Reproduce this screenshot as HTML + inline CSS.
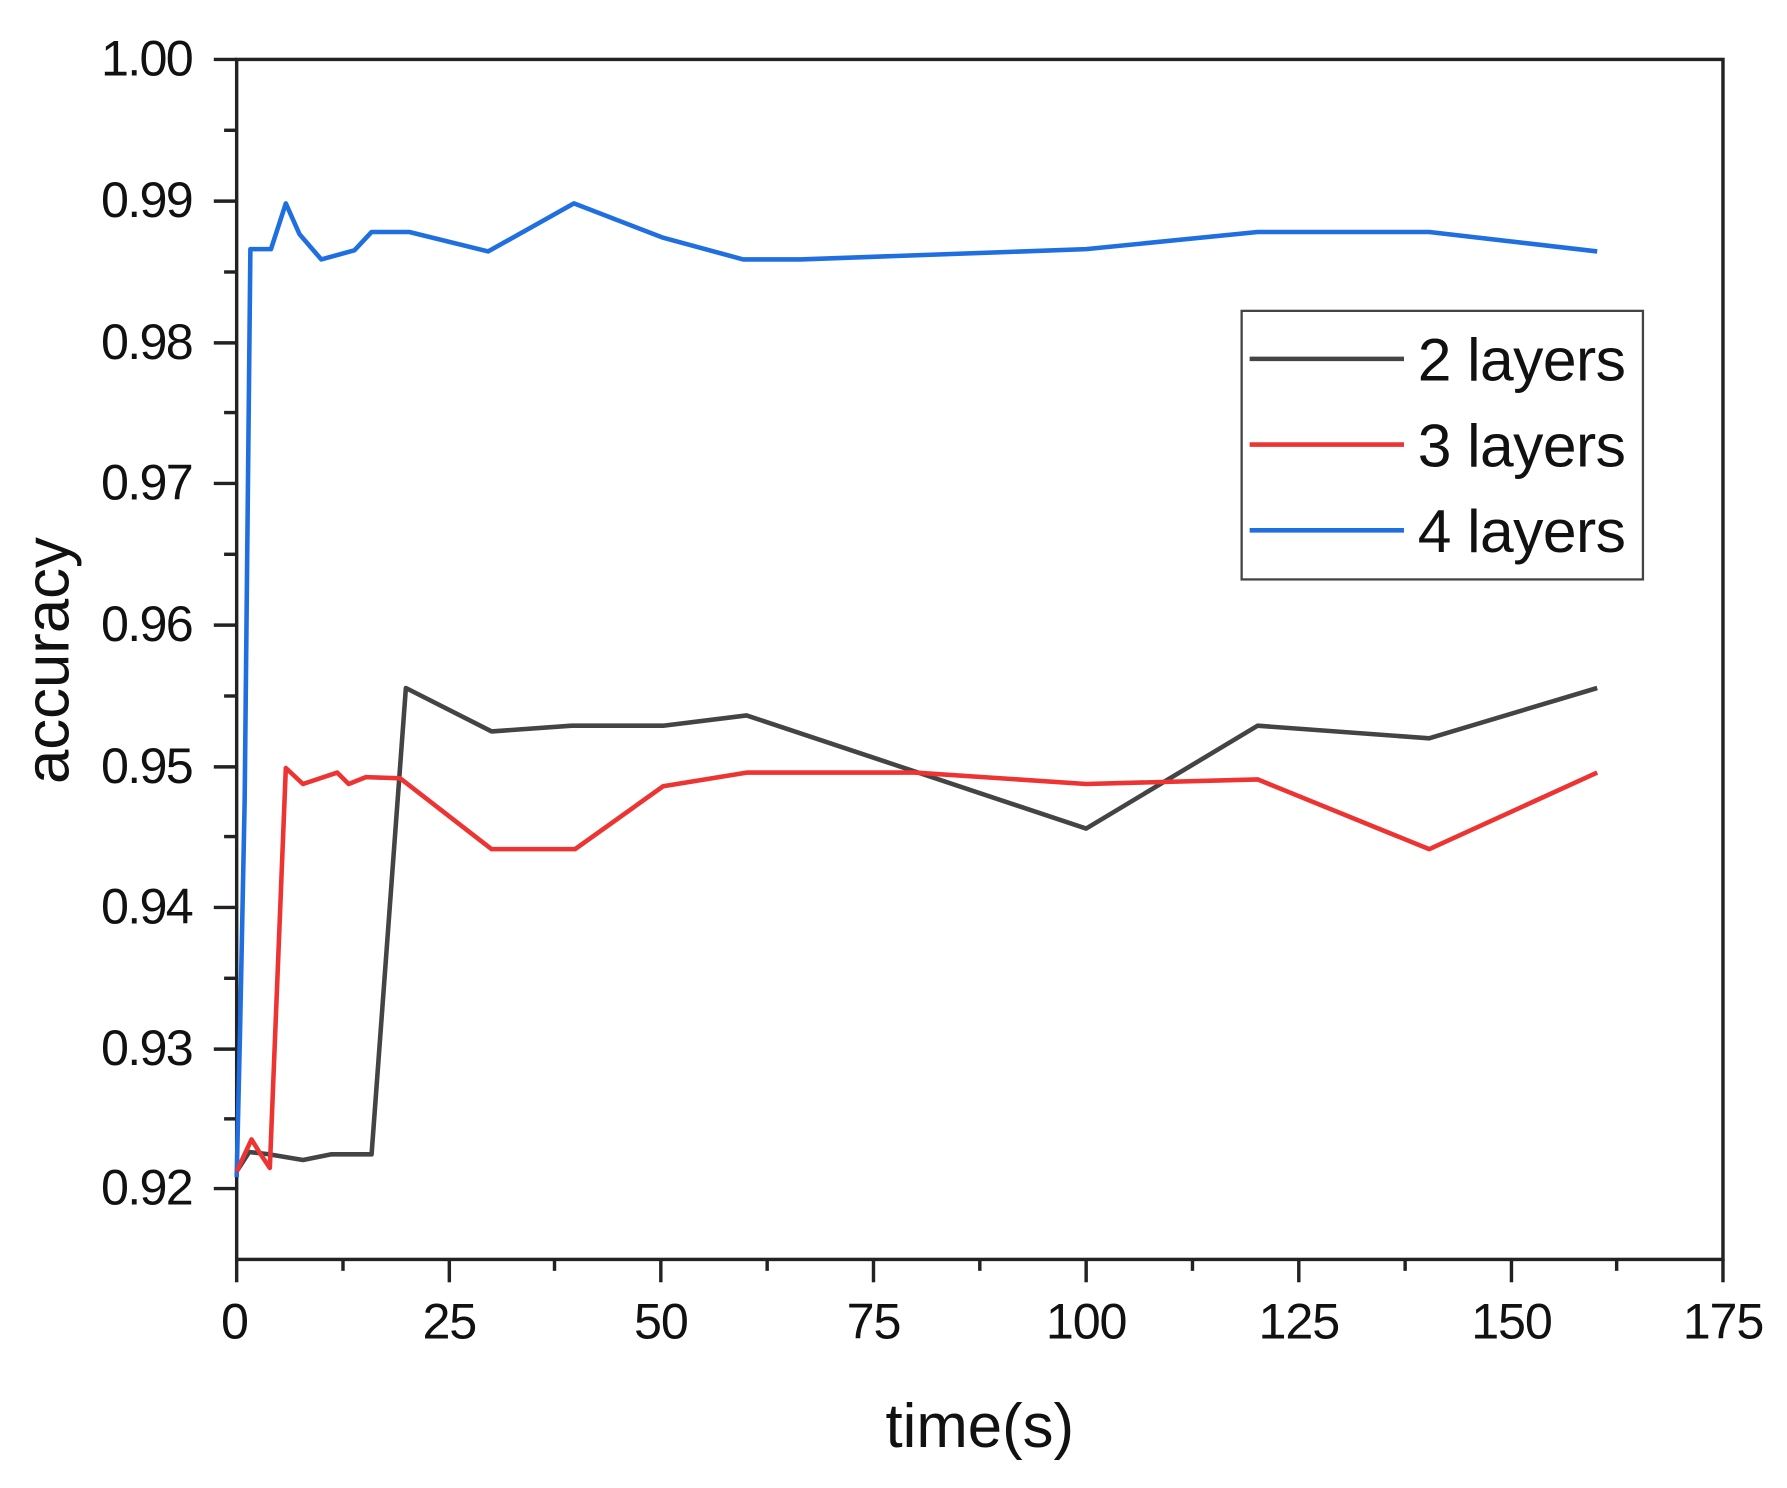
<!DOCTYPE html>
<html><head><meta charset="utf-8"><style>
html,body{margin:0;padding:0;background:#fff;}
svg{display:block;}
text{font-family:"Liberation Sans",sans-serif;fill:#111;}
</style></head><body>
<svg width="1787" height="1488" viewBox="0 0 1563 1302" preserveAspectRatio="none" xmlns="http://www.w3.org/2000/svg">
<rect width="1563" height="1302" fill="#fff"/>
<rect x="207" y="52" width="1300" height="1050" fill="none" stroke="#222" stroke-width="3"/>
<g stroke="#222" stroke-width="3">
<line x1="187" y1="52" x2="207" y2="52"/><line x1="187" y1="176" x2="207" y2="176"/>
<line x1="187" y1="300" x2="207" y2="300"/><line x1="187" y1="423" x2="207" y2="423"/>
<line x1="187" y1="547" x2="207" y2="547"/><line x1="187" y1="671" x2="207" y2="671"/>
<line x1="187" y1="794" x2="207" y2="794"/><line x1="187" y1="918" x2="207" y2="918"/>
<line x1="187" y1="1040" x2="207" y2="1040"/>
<line x1="196" y1="114" x2="207" y2="114"/><line x1="196" y1="238" x2="207" y2="238"/>
<line x1="196" y1="361" x2="207" y2="361"/><line x1="196" y1="485" x2="207" y2="485"/>
<line x1="196" y1="609" x2="207" y2="609"/><line x1="196" y1="732" x2="207" y2="732"/>
<line x1="196" y1="856" x2="207" y2="856"/><line x1="196" y1="979" x2="207" y2="979"/>
<line x1="207" y1="1102" x2="207" y2="1122"/><line x1="393" y1="1102" x2="393" y2="1122"/>
<line x1="578" y1="1102" x2="578" y2="1122"/><line x1="764" y1="1102" x2="764" y2="1122"/>
<line x1="950" y1="1102" x2="950" y2="1122"/><line x1="1136" y1="1102" x2="1136" y2="1122"/>
<line x1="1322" y1="1102" x2="1322" y2="1122"/><line x1="1507" y1="1102" x2="1507" y2="1122"/>
<line x1="300" y1="1102" x2="300" y2="1112"/><line x1="485" y1="1102" x2="485" y2="1112"/>
<line x1="671" y1="1102" x2="671" y2="1112"/><line x1="857" y1="1102" x2="857" y2="1112"/>
<line x1="1043" y1="1102" x2="1043" y2="1112"/><line x1="1229" y1="1102" x2="1229" y2="1112"/>
<line x1="1414" y1="1102" x2="1414" y2="1112"/>
</g>
<g font-size="44" text-anchor="end" letter-spacing="-1.5">
<text x="168" y="66">1.00</text><text x="168" y="190">0.99</text><text x="168" y="314">0.98</text>
<text x="168" y="437">0.97</text><text x="168" y="561">0.96</text><text x="168" y="685">0.95</text>
<text x="168" y="808">0.94</text><text x="168" y="932">0.93</text><text x="168" y="1054">0.92</text>
</g>
<g font-size="44" text-anchor="middle" letter-spacing="-1">
<text x="205" y="1171">0</text><text x="393" y="1171">25</text><text x="578" y="1171">50</text>
<text x="764" y="1171">75</text><text x="950" y="1171">100</text><text x="1136" y="1171">125</text>
<text x="1322" y="1171">150</text><text x="1507" y="1171">175</text>
</g>
<text x="857" y="1266" font-size="54" text-anchor="middle">time(s)</text>
<text transform="translate(60,578) rotate(-90)" font-size="54" text-anchor="middle">accuracy</text>
<g fill="none" stroke-width="4" stroke-linejoin="round">
<polyline stroke="#1f6fe0" points="207,1030 210,900 214,700 219,218 224,218 237,218 250,178 262,205 281,227 310,219 325,203 358,203 427,220 502,178 580,208 650,227 700,227 950,218 1100,203 1250,203 1397,220"/>
<polyline stroke="#444" points="207,1025 218,1008 235,1010 265,1015 290,1010 325,1010 355,602 430,640 500,635 580,635 653,626 950,725 1100,635 1250,646 1397,602"/>
<polyline stroke="#ee3333" points="207,1025 220,997 228,1010 236,1022 250,672 265,686 295,676 305,686 320,680 350,681 430,743 503,743 580,688 653,676 800,676 950,686 1100,682 1250,743 1397,676"/>
</g>
<rect x="1086" y="272" width="351" height="235" fill="#fff" stroke="#444" stroke-width="2"/>
<g stroke-width="4">
<line x1="1093" y1="314" x2="1228" y2="314" stroke="#444"/>
<line x1="1093" y1="389" x2="1228" y2="389" stroke="#ee3333"/>
<line x1="1093" y1="464" x2="1228" y2="464" stroke="#1f6fe0"/>
</g>
<g font-size="53" letter-spacing="-0.5">
<text x="1240" y="333">2 layers</text>
<text x="1240" y="408">3 layers</text>
<text x="1240" y="483">4 layers</text>
</g>
</svg>
</body></html>
